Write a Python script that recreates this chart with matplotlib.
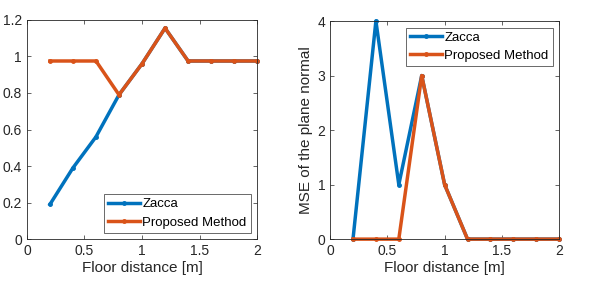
import numpy as np
import matplotlib.pyplot as plt

# data
dist = [0.2, 0.4, 0.6, 0.8, 1.0, 1.2, 1.4, 1.6, 1.8, 2.0]
zacca_left = [0.19, 0.39, 0.56, 0.79, 0.96, 1.155, 0.975, 0.975, 0.975, 0.975]
prop_left = [0.975, 0.975, 0.975, 0.79, 0.96, 1.155, 0.975, 0.975, 0.975, 0.975]
zacca_mse = [0, 4, 1, 3, 1, 0, 0, 0, 0, 0]
prop_mse = [0, 0, 0, 3, 1, 0, 0, 0, 0, 0]

blue = (0, 0.447, 0.741)
orange = (0.85, 0.325, 0.098)

plt.rcParams['font.family'] = 'Liberation Sans'
plt.rcParams['font.size'] = 10

fig = plt.figure(figsize=(5.98, 2.84), dpi=100)
ax1 = fig.add_axes([0.045, 0.158, 0.385, 0.772])
ax2 = fig.add_axes([0.552, 0.158, 0.383, 0.768])

def style(ax):
    ax.tick_params(direction='in', top=True, right=True, length=3, width=0.5,
                   colors='#262626', labelsize=10)
    for s in ax.spines.values():
        s.set_linewidth(0.6)
        s.set_color('#262626')
    ax.set_xlim(0, 2)
    ax.set_xticks([0, 0.5, 1, 1.5, 2])
    ax.set_xticklabels(['0', '0.5', '1', '1.5', '2'])
    ax.set_xlabel('Floor distance [m]', fontsize=11, color='#262626', labelpad=2)

def legend(ax, loc):
    leg = ax.legend(loc=loc, fancybox=False, edgecolor='#262626', fontsize=9.5,
                    handlelength=2.4, borderpad=0.3, labelspacing=0.45,
                    handletextpad=0.2, borderaxespad=0.5)
    leg.get_frame().set_linewidth(0.6)

ax1.plot(dist, zacca_left, '.-', color=blue, lw=2.5, ms=5, label='Zacca', clip_on=False)
ax1.plot(dist, prop_left, '.-', color=orange, lw=2.5, ms=5, label='Proposed Method', clip_on=False)
style(ax1)
ax1.set_ylim(0, 1.2)
ax1.set_yticks(np.arange(0, 1.21, 0.2))
ax1.set_yticklabels(['0', '0.2', '0.4', '0.6', '0.8', '1', '1.2'])
legend(ax1, 'lower right')

ax2.plot(dist, zacca_mse, '.-', color=blue, lw=2.5, ms=5, label='Zacca', clip_on=False)
ax2.plot(dist, prop_mse, '.-', color=orange, lw=2.5, ms=5, label='Proposed Method', clip_on=False)
style(ax2)
ax2.set_ylim(0, 4)
ax2.set_yticks([0, 1, 2, 3, 4])
ax2.set_ylabel('MSE of the plane normal', fontsize=11, color='#262626', labelpad=3)
legend(ax2, 'upper right')

fig.savefig('out.png', dpi=100)
